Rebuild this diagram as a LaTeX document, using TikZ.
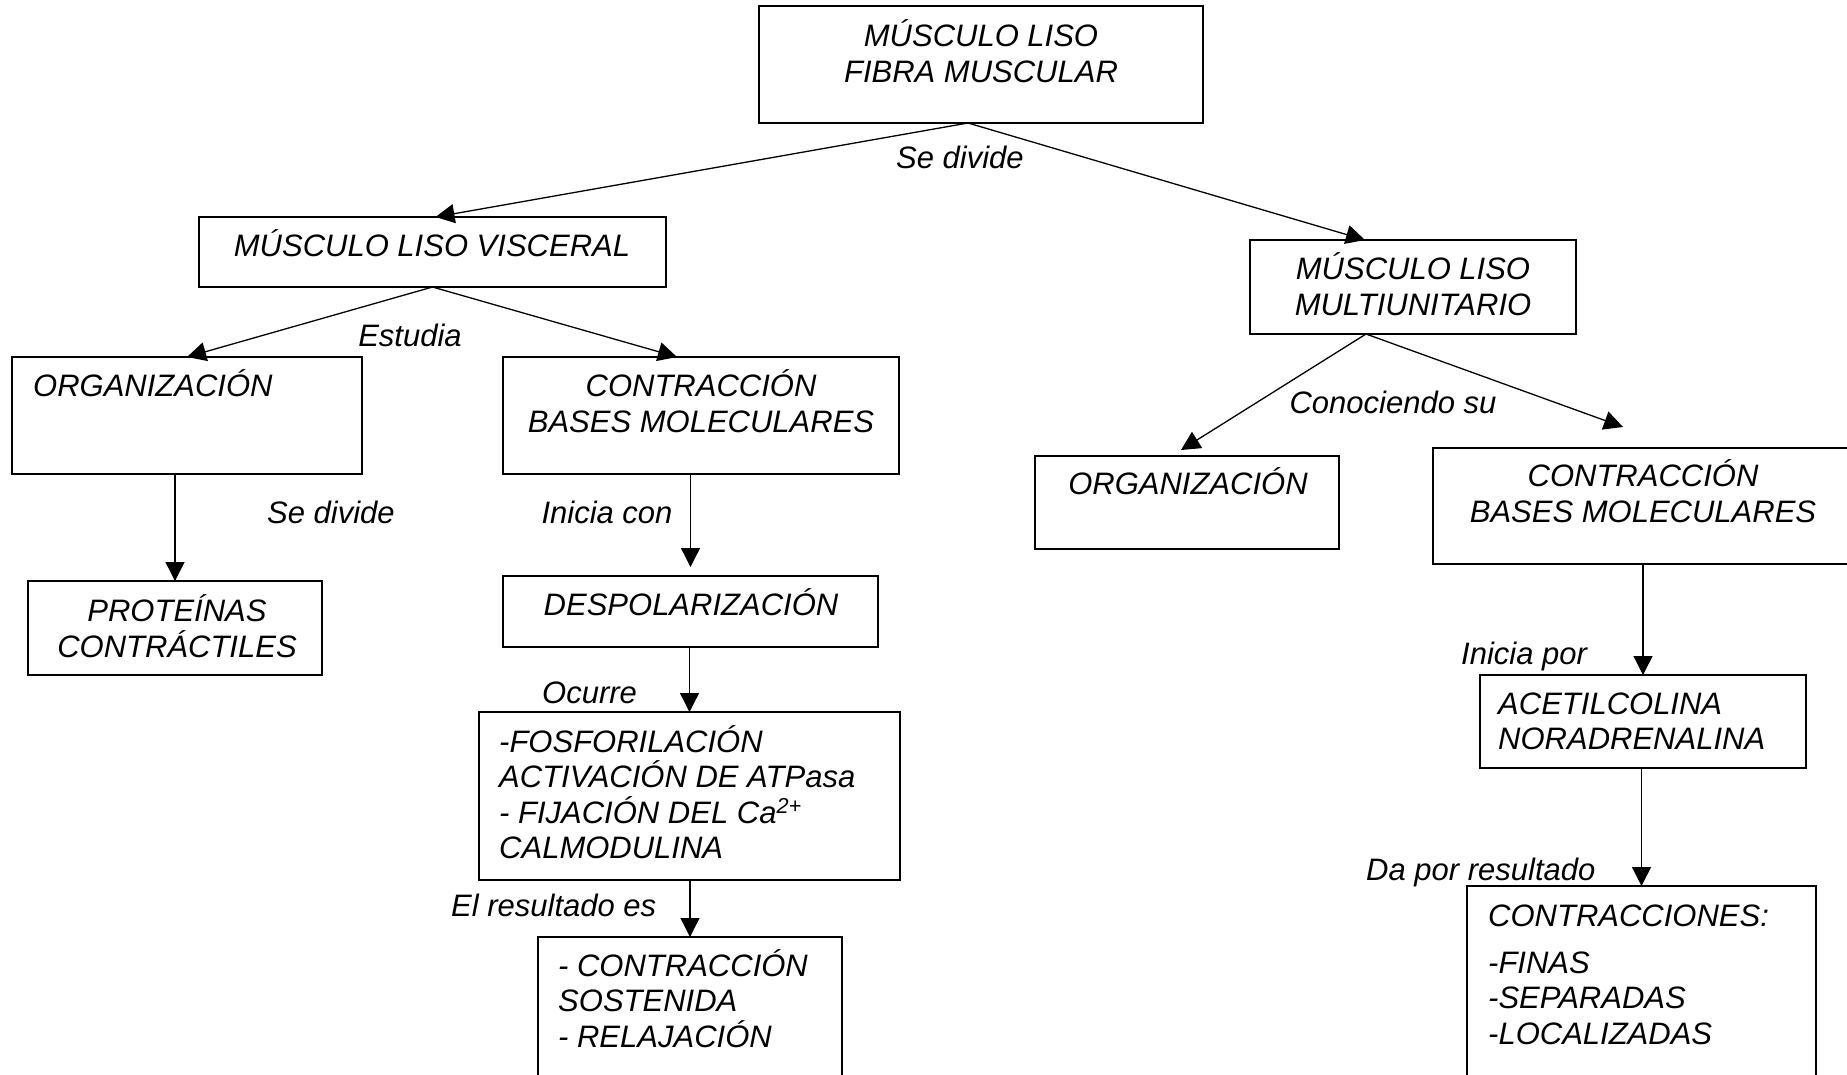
\documentclass[tikz,border=0pt]{standalone}
\usepackage{fontspec}
\setmainfont{Liberation Sans}
\usetikzlibrary{arrows.meta}
\begin{document}
\begin{tikzpicture}[x=1pt,y=-1pt,
  box/.style 2 args={draw, line width=1.8pt, inner sep=0pt, outer sep=0pt,
    anchor=north west, minimum width=#1pt, minimum height=#2pt},
  % multi-line texts are placed by the baseline of their last line
  txt/.style={font=\fontsize{31}{35.5}\selectfont\itshape, inner sep=0pt, anchor=base},
  txtl/.style={txt, anchor=base west, align=left},
  txtc/.style={txt, align=center},
  link/.style={line width=1.3pt, -{Triangle[width=19pt,length=19pt]}}
]
\useasboundingbox (0,0) rectangle (1847,1074);
\clip (0,0) rectangle (1847,1074);

% boxes
\node[box={444}{117}] (top)   at (759,6)    {};
\node[box={467}{70}]  (visc)  at (199,217)  {};
\node[box={326}{94}]  (multi) at (1250,240) {};
\node[box={350}{117}] (orgL)  at (12,357)   {};
\node[box={396}{117}] (conL)  at (503,357)  {};
\node[box={304}{93}]  (orgR)  at (1035,456) {};
\node[box={430}{116}] (conR)  at (1433,448) {};
\node[box={294}{94}]  (prot)  at (28,581)   {};
\node[box={375}{71}]  (desp)  at (503,576)  {};
\node[box={421}{168}] (fos)   at (479,712)  {};
\node[box={304}{170}] (sost)  at (538,937)  {};
\node[box={326}{93}]  (acet)  at (1480,675) {};
\node[box={349}{200}] (contr) at (1467,886) {};

% box texts
\node[txtc] (ttop)   at (981,82)    {MÚSCULO LISO\\FIBRA MUSCULAR};
\node[txt]  (tvisc)  at (432,256)   {MÚSCULO LISO VISCERAL};
\node[txtc] (tmulti) at (1413,315)  {MÚSCULO LISO\\MULTIUNITARIO};
\node[txtl] (torgL)  at (33,396)    {ORGANIZACIÓN};
\node[txtc] (tconL)  at (701,432)   {CONTRACCIÓN\\BASES MOLECULARES};
\node[txt]  (torgR)  at (1188,494)  {ORGANIZACIÓN};
\node[txtc] (tconR)  at (1643,522)  {CONTRACCIÓN\\BASES MOLECULARES};
\node[txtc] (tprot)  at (177,657)   {PROTEÍNAS\\CONTRÁCTILES};
\node[txt]  (tdesp)  at (691,615)   {DESPOLARIZACIÓN};
\node[txtl] (tfos)   at (499,858.5) {-FOSFORILACIÓN\\ACTIVACIÓN DE ATPasa\\- FIJACIÓN DEL Ca\textsuperscript{2+}\\CALMODULINA};
\node[txtl] (tsost)  at (558,1047)  {- CONTRACCIÓN\\SOSTENIDA\\- RELAJACIÓN};
\node[txtl] (tacet)  at (1498,749.5) {ACETILCOLINA\\NORADRENALINA};
\node[txtl] (tcontr) at (1488,1044) {CONTRACCIONES:\\[11pt]-FINAS\\-SEPARADAS\\-LOCALIZADAS};

% connector labels
\node[txt]  (l1) at (960,168)  {Se divide};
\node[txt]  (l2) at (410,346)  {Estudia};
\node[txt]  (l3) at (331,523)  {Se divide};
\node[txt]  (l4) at (607,523)  {Inicia con};
\node[txt]  (l5) at (1393,413) {Conociendo su};
\node[txtl] (l6) at (542,703)  {Ocurre};
\node[txtl] (l7) at (451,916)  {El resultado es};
\node[txtl] (l8) at (1461,664) {Inicia por};
\node[txtl] (l9) at (1366,880) {Da por resultado};

% connectors
\draw[link] ([xshift=-13pt]top.south) -- ([xshift=3pt]visc.north);
\draw[link] ([xshift=-13pt]top.south) -- ([xshift=-48pt]multi.north);
\draw[link] (visc.south) -- (orgL.north);
\draw[link] (visc.south) -- ([xshift=-24pt]conL.north);
\draw[link] ([xshift=-47pt]multi.south) -- ([xshift=-6pt,yshift=6pt]orgR.north);
\draw[link] ([xshift=-47pt]multi.south) -- ([xshift=-25pt,yshift=21pt]conR.north);
\draw[link] (prot.north |- orgL.south) -- (prot.north);
\draw[link] (desp.north |- conL.south) -- ([yshift=9pt]desp.north);
\draw[link] (fos.north |- desp.south) -- (fos.north);
\draw[link] (sost.north |- fos.south) -- (sost.north);
\draw[link] (acet.north |- conR.south) -- (acet.north);
\draw[link] (contr.north |- acet.south) -- (contr.north);
\end{tikzpicture}
\end{document}
